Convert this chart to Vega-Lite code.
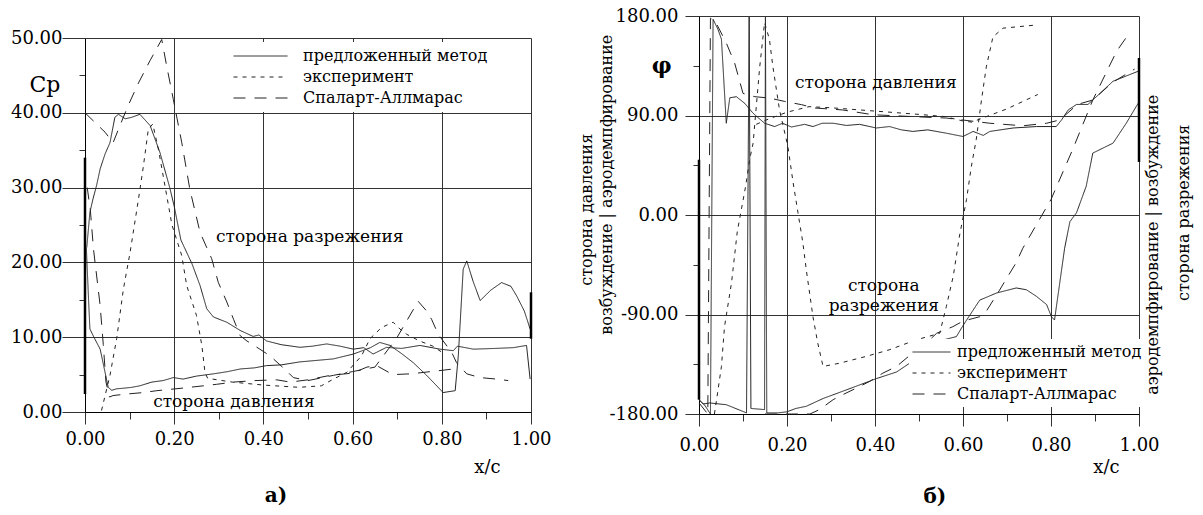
{
"$schema":"https://vega.github.io/schema/vega-lite/v6.json",
"background":"white",
"padding":{"left":10,"top":7,"right":5,"bottom":0},
"bounds":"flush",
"spacing":614,
"config":{
 "view":{"stroke":null},
 "font":"DejaVu Serif",
 "axis":{"labelFont":"DejaVu Serif","labelFontSize":18,"labelColor":"black","domainColor":"black","domainWidth":1,"tickColor":"#333","gridColor":"#333","gridWidth":1,"labelFlush":false,"labelOverlap":false,"titleFont":"DejaVu Serif","titleFontWeight":"normal","titleFontSize":18,"titleColor":"black"},
 "legend":{"symbolType":"stroke","symbolStrokeColor":"#222","symbolStrokeWidth":1,"labelFont":"DejaVu Serif","labelFontSize":16,"labelColor":"black","labelLimit":400,"fillColor":"white","clipHeight":20},
 "text":{"font":"DejaVu Serif","color":"black"}
},
"datasets":{
 "A":[
  {"m":"предложенный метод","c":"P","x":0.003,"y":22},{"m":"предложенный метод","c":"P","x":0.008,"y":15},{"m":"предложенный метод","c":"P","x":0.011,"y":11.1},{"m":"предложенный метод","c":"P","x":0.02,"y":10},{"m":"предложенный метод","c":"P","x":0.034,"y":8.4},{"m":"предложенный метод","c":"P","x":0.045,"y":5.3},{"m":"предложенный метод","c":"P","x":0.052,"y":3.3},{"m":"предложенный метод","c":"P","x":0.06,"y":2.9},{"m":"предложенный метод","c":"P","x":0.071,"y":3.1},{"m":"предложенный метод","c":"P","x":0.09,"y":3.2},{"m":"предложенный метод","c":"P","x":0.105,"y":3.3},{"m":"предложенный метод","c":"P","x":0.123,"y":3.5},{"m":"предложенный метод","c":"P","x":0.15,"y":4.0},{"m":"предложенный метод","c":"P","x":0.175,"y":4.2},{"m":"предложенный метод","c":"P","x":0.198,"y":4.6},{"m":"предложенный метод","c":"P","x":0.22,"y":4.4},{"m":"предложенный метод","c":"P","x":0.25,"y":4.8},{"m":"предложенный метод","c":"P","x":0.288,"y":5.1},{"m":"предложенный метод","c":"P","x":0.32,"y":5.4},{"m":"предложенный метод","c":"P","x":0.348,"y":5.75},{"m":"предложенный метод","c":"P","x":0.38,"y":5.9},{"m":"предложенный метод","c":"P","x":0.407,"y":6.2},{"m":"предложенный метод","c":"P","x":0.44,"y":6.3},{"m":"предложенный метод","c":"P","x":0.482,"y":6.7},{"m":"предложенный метод","c":"P","x":0.52,"y":6.9},{"m":"предложенный метод","c":"P","x":0.557,"y":7.1},{"m":"предложенный метод","c":"P","x":0.602,"y":7.75},{"m":"предложенный метод","c":"P","x":0.64,"y":8.6},{"m":"предложенный метод","c":"P","x":0.661,"y":9.3},{"m":"предложенный метод","c":"P","x":0.684,"y":8.9},{"m":"предложенный метод","c":"P","x":0.71,"y":7.8},{"m":"предложенный метод","c":"P","x":0.736,"y":6.6},{"m":"предложенный метод","c":"P","x":0.766,"y":4.9},{"m":"предложенный метод","c":"P","x":0.803,"y":2.6},{"m":"предложенный метод","c":"P","x":0.83,"y":2.85},{"m":"предложенный метод","c":"P","x":0.837,"y":7.5},{"m":"предложенный метод","c":"P","x":0.848,"y":19.1},{"m":"предложенный метод","c":"P","x":0.856,"y":20.2},{"m":"предложенный метод","c":"P","x":0.87,"y":17.5},{"m":"предложенный метод","c":"P","x":0.886,"y":14.9},{"m":"предложенный метод","c":"P","x":0.91,"y":16.3},{"m":"предложенный метод","c":"P","x":0.934,"y":17.3},{"m":"предложенный метод","c":"P","x":0.955,"y":16.8},{"m":"предложенный метод","c":"P","x":0.968,"y":15.5},{"m":"предложенный метод","c":"P","x":0.985,"y":13.5},{"m":"предложенный метод","c":"P","x":0.998,"y":11.1},
  {"m":"предложенный метод","c":"S","x":0.004,"y":22},{"m":"предложенный метод","c":"S","x":0.011,"y":26.7},{"m":"предложенный метод","c":"S","x":0.018,"y":28.5},{"m":"предложенный метод","c":"S","x":0.026,"y":30.3},{"m":"предложенный метод","c":"S","x":0.034,"y":32.5},{"m":"предложенный метод","c":"S","x":0.045,"y":34.5},{"m":"предложенный метод","c":"S","x":0.056,"y":36},{"m":"предложенный метод","c":"S","x":0.067,"y":39.4},{"m":"предложенный метод","c":"S","x":0.075,"y":39.8},{"m":"предложенный метод","c":"S","x":0.09,"y":39.2},{"m":"предложенный метод","c":"S","x":0.105,"y":39.4},{"m":"предложенный метод","c":"S","x":0.123,"y":39.8},{"m":"предложенный метод","c":"S","x":0.146,"y":38.3},{"m":"предложенный метод","c":"S","x":0.168,"y":34.7},{"m":"предложенный метод","c":"S","x":0.19,"y":30},{"m":"предложенный метод","c":"S","x":0.2,"y":27.5},{"m":"предложенный метод","c":"S","x":0.215,"y":23},{"m":"предложенный метод","c":"S","x":0.24,"y":19.8},{"m":"предложенный метод","c":"S","x":0.258,"y":16.9},{"m":"предложенный метод","c":"S","x":0.273,"y":13.8},{"m":"предложенный метод","c":"S","x":0.288,"y":12.7},{"m":"предложенный метод","c":"S","x":0.318,"y":12.0},{"m":"предложенный метод","c":"S","x":0.348,"y":10.9},{"m":"предложенный метод","c":"S","x":0.377,"y":10.1},{"m":"предложенный метод","c":"S","x":0.39,"y":10.3},{"m":"предложенный метод","c":"S","x":0.407,"y":9.5},{"m":"предложенный метод","c":"S","x":0.44,"y":9.0},{"m":"предложенный метод","c":"S","x":0.482,"y":8.65},{"m":"предложенный метод","c":"S","x":0.51,"y":8.8},{"m":"предложенный метод","c":"S","x":0.542,"y":9.1},{"m":"предложенный метод","c":"S","x":0.572,"y":8.8},{"m":"предложенный метод","c":"S","x":0.602,"y":8.4},{"m":"предложенный метод","c":"S","x":0.625,"y":8.6},{"m":"предложенный метод","c":"S","x":0.646,"y":7.75},{"m":"предложенный метод","c":"S","x":0.676,"y":8.64},{"m":"предложенный метод","c":"S","x":0.71,"y":8.5},{"m":"предложенный метод","c":"S","x":0.751,"y":8.9},{"m":"предложенный метод","c":"S","x":0.796,"y":8.4},{"m":"предложенный метод","c":"S","x":0.826,"y":8.2},{"m":"предложенный метод","c":"S","x":0.835,"y":8.8},{"m":"предложенный метод","c":"S","x":0.871,"y":8.4},{"m":"предложенный метод","c":"S","x":0.92,"y":8.5},{"m":"предложенный метод","c":"S","x":0.96,"y":8.6},{"m":"предложенный метод","c":"S","x":0.99,"y":8.9},{"m":"предложенный метод","c":"S","x":0.998,"y":4.4},
  {"m":"эксперимент","c":"E","x":0.037,"y":0.2},{"m":"эксперимент","c":"E","x":0.056,"y":4.9},{"m":"эксперимент","c":"E","x":0.071,"y":9.8},{"m":"эксперимент","c":"E","x":0.086,"y":16.4},{"m":"эксперимент","c":"E","x":0.101,"y":21.3},{"m":"эксперимент","c":"E","x":0.12,"y":28.5},{"m":"эксперимент","c":"E","x":0.131,"y":32.9},{"m":"эксперимент","c":"E","x":0.142,"y":37.8},{"m":"эксперимент","c":"E","x":0.152,"y":38.5},{"m":"эксперимент","c":"E","x":0.165,"y":35},{"m":"эксперимент","c":"E","x":0.18,"y":30},{"m":"эксперимент","c":"E","x":0.195,"y":25},{"m":"эксперимент","c":"E","x":0.217,"y":20.9},{"m":"эксперимент","c":"E","x":0.228,"y":16.9},{"m":"эксперимент","c":"E","x":0.25,"y":12.9},{"m":"эксперимент","c":"E","x":0.262,"y":8.9},{"m":"эксперимент","c":"E","x":0.269,"y":5.3},{"m":"эксперимент","c":"E","x":0.275,"y":4.5},{"m":"эксперимент","c":"E","x":0.33,"y":4.0},{"m":"эксперимент","c":"E","x":0.4,"y":3.6},{"m":"эксперимент","c":"E","x":0.48,"y":3.3},{"m":"эксперимент","c":"E","x":0.53,"y":3.5},{"m":"эксперимент","c":"E","x":0.557,"y":4.4},{"m":"эксперимент","c":"E","x":0.587,"y":5.3},{"m":"эксперимент","c":"E","x":0.62,"y":7.5},{"m":"эксперимент","c":"E","x":0.639,"y":9.8},{"m":"эксперимент","c":"E","x":0.665,"y":11.3},{"m":"эксперимент","c":"E","x":0.691,"y":12},{"m":"эксперимент","c":"E","x":0.706,"y":11.1},{"m":"эксперимент","c":"E","x":0.721,"y":10.4},{"m":"эксперимент","c":"E","x":0.75,"y":9.5},{"m":"эксперимент","c":"E","x":0.78,"y":8.8},{"m":"эксперимент","c":"E","x":0.8,"y":8.0},
  {"m":"Спаларт-Аллмарас","c":"AS","x":0,"y":40},{"m":"Спаларт-Аллмарас","c":"AS","x":0.026,"y":38.5},{"m":"Спаларт-Аллмарас","c":"AS","x":0.045,"y":37.4},{"m":"Спаларт-Аллмарас","c":"AS","x":0.063,"y":36},{"m":"Спаларт-Аллмарас","c":"AS","x":0.075,"y":37.8},{"m":"Спаларт-Аллмарас","c":"AS","x":0.097,"y":41},{"m":"Спаларт-Аллмарас","c":"AS","x":0.12,"y":44},{"m":"Спаларт-Аллмарас","c":"AS","x":0.146,"y":47},{"m":"Спаларт-Аллмарас","c":"AS","x":0.172,"y":49.8},{"m":"Спаларт-Аллмарас","c":"AS","x":0.183,"y":46.3},{"m":"Спаларт-Аллмарас","c":"AS","x":0.198,"y":41.8},{"m":"Спаларт-Аллмарас","c":"AS","x":0.217,"y":36},{"m":"Спаларт-Аллмарас","c":"AS","x":0.235,"y":29.8},{"m":"Спаларт-Аллмарас","c":"AS","x":0.258,"y":24},{"m":"Спаларт-Аллмарас","c":"AS","x":0.284,"y":20.5},{"m":"Спаларт-Аллмарас","c":"AS","x":0.299,"y":17.3},{"m":"Спаларт-Аллмарас","c":"AS","x":0.318,"y":14.7},{"m":"Спаларт-Аллмарас","c":"AS","x":0.333,"y":12.4},{"m":"Спаларт-Аллмарас","c":"AS","x":0.348,"y":10.2},{"m":"Спаларт-Аллмарас","c":"AS","x":0.363,"y":9.5},{"m":"Спаларт-Аллмарас","c":"AS","x":0.392,"y":8.4},{"m":"Спаларт-Аллмарас","c":"AS","x":0.415,"y":7.5},{"m":"Спаларт-Аллмарас","c":"AS","x":0.452,"y":5.5},{"m":"Спаларт-Аллмарас","c":"AS","x":0.467,"y":4.6},{"m":"Спаларт-Аллмарас","c":"AS","x":0.5,"y":4.2},{"m":"Спаларт-Аллмарас","c":"AS","x":0.557,"y":4.9},{"m":"Спаларт-Аллмарас","c":"AS","x":0.6,"y":5.4},{"m":"Спаларт-Аллмарас","c":"AS","x":0.65,"y":6.0},{"m":"Спаларт-Аллмарас","c":"AS","x":0.7,"y":10},{"m":"Спаларт-Аллмарас","c":"AS","x":0.747,"y":14.8},{"m":"Спаларт-Аллмарас","c":"AS","x":0.766,"y":13.5},{"m":"Спаларт-Аллмарас","c":"AS","x":0.777,"y":12.4},{"m":"Спаларт-Аллмарас","c":"AS","x":0.792,"y":10.4},{"m":"Спаларт-Аллмарас","c":"AS","x":0.803,"y":9.5},{"m":"Спаларт-Аллмарас","c":"AS","x":0.822,"y":8.0},{"m":"Спаларт-Аллмарас","c":"AS","x":0.833,"y":6.6},{"m":"Спаларт-Аллмарас","c":"AS","x":0.856,"y":5.1},{"m":"Спаларт-Аллмарас","c":"AS","x":0.886,"y":4.6},{"m":"Спаларт-Аллмарас","c":"AS","x":0.923,"y":4.4},{"m":"Спаларт-Аллмарас","c":"AS","x":0.949,"y":4.2},
  {"m":"Спаларт-Аллмарас","c":"AP","x":0.005,"y":30},{"m":"Спаларт-Аллмарас","c":"AP","x":0.012,"y":27},{"m":"Спаларт-Аллмарас","c":"AP","x":0.019,"y":21.8},{"m":"Спаларт-Аллмарас","c":"AP","x":0.034,"y":14.2},{"m":"Спаларт-Аллмарас","c":"AP","x":0.041,"y":9},{"m":"Спаларт-Аллмарас","c":"AP","x":0.047,"y":4},{"m":"Спаларт-Аллмарас","c":"AP","x":0.055,"y":2.0},{"m":"Спаларт-Аллмарас","c":"AP","x":0.063,"y":2.2},{"m":"Спаларт-Аллмарас","c":"AP","x":0.093,"y":2.4},{"m":"Спаларт-Аллмарас","c":"AP","x":0.131,"y":2.6},{"m":"Спаларт-Аллмарас","c":"AP","x":0.161,"y":2.85},{"m":"Спаларт-Аллмарас","c":"AP","x":0.22,"y":3.2},{"m":"Спаларт-Аллмарас","c":"AP","x":0.265,"y":3.5},{"m":"Спаларт-Аллмарас","c":"AP","x":0.295,"y":3.7},{"m":"Спаларт-Аллмарас","c":"AP","x":0.333,"y":4.0},{"m":"Спаларт-Аллмарас","c":"AP","x":0.38,"y":4.2},{"m":"Спаларт-Аллмарас","c":"AP","x":0.43,"y":4.3},{"m":"Спаларт-Аллмарас","c":"AP","x":0.46,"y":4.0},{"m":"Спаларт-Аллмарас","c":"AP","x":0.5,"y":4.3},{"m":"Спаларт-Аллмарас","c":"AP","x":0.55,"y":4.9},{"m":"Спаларт-Аллмарас","c":"AP","x":0.6,"y":5.2},{"m":"Спаларт-Аллмарас","c":"AP","x":0.632,"y":6.0},{"m":"Спаларт-Аллмарас","c":"AP","x":0.654,"y":6.2},{"m":"Спаларт-Аллмарас","c":"AP","x":0.69,"y":5.0},{"m":"Спаларт-Аллмарас","c":"AP","x":0.73,"y":5.1},{"m":"Спаларт-Аллмарас","c":"AP","x":0.79,"y":5.5},{"m":"Спаларт-Аллмарас","c":"AP","x":0.826,"y":5.75}
 ],
 "B":[
  {"m":"предложенный метод","c":"P","x":0.0,"y":-167},{"m":"предложенный метод","c":"P","x":0.013,"y":-172},{"m":"предложенный метод","c":"P","x":0.026,"y":-180},{"m":"предложенный метод","c":"P","x":0.032,"y":177},{"m":"предложенный метод","c":"P","x":0.043,"y":168},{"m":"предложенный метод","c":"P","x":0.051,"y":159},{"m":"предложенный метод","c":"P","x":0.062,"y":83},{"m":"предложенный метод","c":"P","x":0.07,"y":106},{"m":"предложенный метод","c":"P","x":0.085,"y":107},{"m":"предложенный метод","c":"P","x":0.104,"y":101},{"m":"предложенный метод","c":"P","x":0.123,"y":92},{"m":"предложенный метод","c":"P","x":0.149,"y":83},{"m":"предложенный метод","c":"P","x":0.172,"y":80},{"m":"предложенный метод","c":"P","x":0.19,"y":83},{"m":"предложенный метод","c":"P","x":0.21,"y":79.6},{"m":"предложенный метод","c":"P","x":0.24,"y":82},{"m":"предложенный метод","c":"P","x":0.259,"y":80},{"m":"предложенный метод","c":"P","x":0.28,"y":83},{"m":"предложенный метод","c":"P","x":0.305,"y":83},{"m":"предложенный метод","c":"P","x":0.335,"y":81},{"m":"предложенный метод","c":"P","x":0.365,"y":82},{"m":"предложенный метод","c":"P","x":0.403,"y":78.7},{"m":"предложенный метод","c":"P","x":0.433,"y":80},{"m":"предложенный метод","c":"P","x":0.46,"y":77},{"m":"предложенный метод","c":"P","x":0.486,"y":75.6},{"m":"предложенный метод","c":"P","x":0.52,"y":77},{"m":"предложенный метод","c":"P","x":0.562,"y":74},{"m":"предложенный метод","c":"P","x":0.6,"y":71},{"m":"предложенный метод","c":"P","x":0.623,"y":75.6},{"m":"предложенный метод","c":"P","x":0.646,"y":72},{"m":"предложенный метод","c":"P","x":0.661,"y":75.6},{"m":"предложенный метод","c":"P","x":0.714,"y":78.7},{"m":"предложенный метод","c":"P","x":0.767,"y":80},{"m":"предложенный метод","c":"P","x":0.812,"y":80},{"m":"предложенный метод","c":"P","x":0.824,"y":86},{"m":"предложенный метод","c":"P","x":0.839,"y":95},{"m":"предложенный метод","c":"P","x":0.858,"y":100},{"m":"предложенный метод","c":"P","x":0.884,"y":100},{"m":"предложенный метод","c":"P","x":0.895,"y":104},{"m":"предложенный метод","c":"P","x":0.941,"y":121},{"m":"предложенный метод","c":"P","x":0.998,"y":130},
  {"m":"предложенный метод","c":"S","x":0.0,"y":-167},{"m":"предложенный метод","c":"S","x":0.009,"y":-171},{"m":"предложенный метод","c":"S","x":0.024,"y":-170},{"m":"предложенный метод","c":"S","x":0.062,"y":-171.6},{"m":"предложенный метод","c":"S","x":0.108,"y":-179},{"m":"предложенный метод","c":"S","x":0.114,"y":179},{"m":"предложенный метод","c":"S","x":0.118,"y":-175},{"m":"предложенный метод","c":"S","x":0.149,"y":-176},{"m":"предложенный метод","c":"S","x":0.151,"y":179},{"m":"предложенный метод","c":"S","x":0.154,"y":-179},{"m":"предложенный метод","c":"S","x":0.18,"y":-179},{"m":"предложенный метод","c":"S","x":0.2,"y":-178},{"m":"предложенный метод","c":"S","x":0.22,"y":-175},{"m":"предложенный метод","c":"S","x":0.244,"y":-173},{"m":"предложенный метод","c":"S","x":0.282,"y":-166},{"m":"предложенный метод","c":"S","x":0.343,"y":-157},{"m":"предложенный метод","c":"S","x":0.403,"y":-148},{"m":"предложенный метод","c":"S","x":0.449,"y":-142},{"m":"предложенный метод","c":"S","x":0.479,"y":-134},{"m":"предложенный метод","c":"S","x":0.509,"y":-120},{"m":"предложенный метод","c":"S","x":0.54,"y":-117},{"m":"предложенный метод","c":"S","x":0.555,"y":-113},{"m":"предложенный метод","c":"S","x":0.585,"y":-110},{"m":"предложенный метод","c":"S","x":0.6,"y":-100},{"m":"предложенный метод","c":"S","x":0.638,"y":-77},{"m":"предложенный метод","c":"S","x":0.676,"y":-70.6},{"m":"предложенный метод","c":"S","x":0.721,"y":-66},{"m":"предложенный метод","c":"S","x":0.744,"y":-67.6},{"m":"предложенный метод","c":"S","x":0.767,"y":-73.6},{"m":"предложенный метод","c":"S","x":0.79,"y":-81},{"m":"предложенный метод","c":"S","x":0.801,"y":-92},{"m":"предложенный метод","c":"S","x":0.808,"y":-95},{"m":"предложенный метод","c":"S","x":0.831,"y":-30},{"m":"предложенный метод","c":"S","x":0.843,"y":-6},{"m":"предложенный метод","c":"S","x":0.858,"y":2},{"m":"предложенный метод","c":"S","x":0.88,"y":26},{"m":"предложенный метод","c":"S","x":0.895,"y":56},{"m":"предложенный метод","c":"S","x":0.941,"y":65},{"m":"предложенный метод","c":"S","x":0.971,"y":83},{"m":"предложенный метод","c":"S","x":0.998,"y":101},
  {"m":"эксперимент","c":"ES","x":0.035,"y":-180},{"m":"эксперимент","c":"ES","x":0.04,"y":-167},{"m":"эксперимент","c":"ES","x":0.051,"y":-137},{"m":"эксперимент","c":"ES","x":0.058,"y":-101},{"m":"эксперимент","c":"ES","x":0.074,"y":-61},{"m":"эксперимент","c":"ES","x":0.087,"y":-15},{"m":"эксперимент","c":"ES","x":0.106,"y":26},{"m":"эксперимент","c":"ES","x":0.115,"y":50},{"m":"эксперимент","c":"ES","x":0.123,"y":65},{"m":"эксперимент","c":"ES","x":0.138,"y":134},{"m":"эксперимент","c":"ES","x":0.149,"y":174},{"m":"эксперимент","c":"ES","x":0.16,"y":159},{"m":"эксперимент","c":"ES","x":0.168,"y":134},{"m":"эксперимент","c":"ES","x":0.183,"y":95},{"m":"эксперимент","c":"ES","x":0.202,"y":62},{"m":"эксперимент","c":"ES","x":0.214,"y":29},{"m":"эксперимент","c":"ES","x":0.225,"y":2},{"m":"эксперимент","c":"ES","x":0.236,"y":-25},{"m":"эксперимент","c":"ES","x":0.244,"y":-50},{"m":"эксперимент","c":"ES","x":0.259,"y":-92},{"m":"эксперимент","c":"ES","x":0.27,"y":-116},{"m":"эксперимент","c":"ES","x":0.282,"y":-137},{"m":"эксперимент","c":"ES","x":0.32,"y":-134},{"m":"эксперимент","c":"ES","x":0.379,"y":-128},{"m":"эксперимент","c":"ES","x":0.432,"y":-122},{"m":"эксперимент","c":"ES","x":0.493,"y":-113},{"m":"эксперимент","c":"ES","x":0.547,"y":-107},{"m":"эксперимент","c":"ES","x":0.562,"y":-83},{"m":"эксперимент","c":"ES","x":0.578,"y":-55},{"m":"эксперимент","c":"ES","x":0.592,"y":-19},{"m":"эксперимент","c":"ES","x":0.608,"y":14},{"m":"эксперимент","c":"ES","x":0.619,"y":44},{"m":"эксперимент","c":"ES","x":0.63,"y":68},{"m":"эксперимент","c":"ES","x":0.642,"y":104},{"m":"эксперимент","c":"ES","x":0.653,"y":134},{"m":"эксперимент","c":"ES","x":0.668,"y":161},{"m":"эксперимент","c":"ES","x":0.691,"y":169},{"m":"эксперимент","c":"ES","x":0.77,"y":172},
  {"m":"эксперимент","c":"EP","x":0.13,"y":82},{"m":"эксперимент","c":"EP","x":0.153,"y":86},{"m":"эксперимент","c":"EP","x":0.2,"y":93},{"m":"эксперимент","c":"EP","x":0.25,"y":98},{"m":"эксперимент","c":"EP","x":0.3,"y":97},{"m":"эксперимент","c":"EP","x":0.4,"y":94},{"m":"эксперимент","c":"EP","x":0.5,"y":91},{"m":"эксперимент","c":"EP","x":0.56,"y":89},{"m":"эксперимент","c":"EP","x":0.6,"y":85},{"m":"эксперимент","c":"EP","x":0.62,"y":84},{"m":"эксперимент","c":"EP","x":0.7,"y":96},{"m":"эксперимент","c":"EP","x":0.77,"y":109},
  {"m":"Спаларт-Аллмарас","c":"AP","x":0.0,"y":-170},{"m":"Спаларт-Аллмарас","c":"AP","x":0.02,"y":-180},{"m":"Спаларт-Аллмарас","c":"AP","x":0.026,"y":178},{"m":"Спаларт-Аллмарас","c":"AP","x":0.036,"y":176},{"m":"Спаларт-Аллмарас","c":"AP","x":0.062,"y":155.6},{"m":"Спаларт-Аллмарас","c":"AP","x":0.081,"y":137.5},{"m":"Спаларт-Аллмарас","c":"AP","x":0.1,"y":110},{"m":"Спаларт-Аллмарас","c":"AP","x":0.127,"y":107},{"m":"Спаларт-Аллмарас","c":"AP","x":0.16,"y":105.8},{"m":"Спаларт-Аллмарас","c":"AP","x":0.195,"y":102.7},{"m":"Спаларт-Аллмарас","c":"AP","x":0.233,"y":99.8},{"m":"Спаларт-Аллмарас","c":"AP","x":0.263,"y":96.8},{"m":"Спаларт-Аллмарас","c":"AP","x":0.327,"y":95},{"m":"Спаларт-Аллмарас","c":"AP","x":0.395,"y":90.7},{"m":"Спаларт-Аллмарас","c":"AP","x":0.486,"y":89},{"m":"Спаларт-Аллмарас","c":"AP","x":0.562,"y":87.7},{"m":"Спаларт-Аллмарас","c":"AP","x":0.661,"y":83},{"m":"Спаларт-Аллмарас","c":"AP","x":0.736,"y":80.7},{"m":"Спаларт-Аллмарас","c":"AP","x":0.79,"y":83},{"m":"Спаларт-Аллмарас","c":"AP","x":0.82,"y":86},{"m":"Спаларт-Аллмарас","c":"AP","x":0.86,"y":100},{"m":"Спаларт-Аллмарас","c":"AP","x":0.895,"y":104},{"m":"Спаларт-Аллмарас","c":"AP","x":0.94,"y":120},{"m":"Спаларт-Аллмарас","c":"AP","x":0.99,"y":132},
  {"m":"Спаларт-Аллмарас","c":"AS","x":0.15,"y":-180},{"m":"Спаларт-Аллмарас","c":"AS","x":0.21,"y":-180},{"m":"Спаларт-Аллмарас","c":"AS","x":0.252,"y":-180},{"m":"Спаларт-Аллмарас","c":"AS","x":0.274,"y":-176},{"m":"Спаларт-Аллмарас","c":"AS","x":0.305,"y":-167},{"m":"Спаларт-Аллмарас","c":"AS","x":0.327,"y":-162.5},{"m":"Спаларт-Аллмарас","c":"AS","x":0.358,"y":-156.5},{"m":"Спаларт-Аллмарас","c":"AS","x":0.388,"y":-150.5},{"m":"Спаларт-Аллмарас","c":"AS","x":0.418,"y":-143},{"m":"Спаларт-Аллмарас","c":"AS","x":0.449,"y":-137},{"m":"Спаларт-Аллмарас","c":"AS","x":0.494,"y":-122},{"m":"Спаларт-Аллмарас","c":"AS","x":0.524,"y":-113},{"m":"Спаларт-Аллмарас","c":"AS","x":0.54,"y":-107},{"m":"Спаларт-Аллмарас","c":"AS","x":0.577,"y":-101},{"m":"Спаларт-Аллмарас","c":"AS","x":0.6,"y":-96},{"m":"Спаларт-Аллмарас","c":"AS","x":0.638,"y":-92},{"m":"Спаларт-Аллмарас","c":"AS","x":0.653,"y":-87},{"m":"Спаларт-Аллмарас","c":"AS","x":0.683,"y":-68},{"m":"Спаларт-Аллмарас","c":"AS","x":0.721,"y":-43},{"m":"Спаларт-Аллмарас","c":"AS","x":0.736,"y":-30},{"m":"Спаларт-Аллмарас","c":"AS","x":0.8,"y":14},{"m":"Спаларт-Аллмарас","c":"AS","x":0.85,"y":60},{"m":"Спаларт-Аллмарас","c":"AS","x":0.895,"y":104},{"m":"Спаларт-Аллмарас","c":"AS","x":0.949,"y":148},{"m":"Спаларт-Аллмарас","c":"AS","x":0.97,"y":160}
 ],
 "Ae":[{"x":0,"y":2.4,"y2":34},{"x":1,"y":9.8,"y2":16}],
 "Be":[{"x":0,"y":-167,"y2":50},{"x":1,"y":48,"y2":142}]
},
"resolve":{"scale":{"strokeDash":"independent"},"legend":{"strokeDash":"independent"}},
"hconcat":[
 {"vconcat":[
   {"width":446,"height":2,"data":{"values":[]},"mark":"point"},
   {"width":446,"height":374,
    "encoding":{
     "x":{"field":"x","type":"quantitative","scale":{"domain":[0,1],"nice":false},
      "axis":{"values":[0,0.1,0.2,0.3,0.4,0.5,0.6,0.7,0.8,0.9,1],"grid":true,
       "gridOpacity":{"condition":{"test":"round(datum.value*10)%2===0","value":1},"value":0},
       "tickSize":{"condition":{"test":"round(datum.value*10)%2===0","value":12},"value":7},
       "labelExpr":"round(datum.value*10)%2===0 ? format(datum.value,'.2f') : ''",
       "labelPadding":6,"title":"x/c","titleX":402,"titleY":55,"titleAlign":"center","titleBaseline":"middle"}},
     "y":{"field":"y","type":"quantitative","scale":{"domain":[0,50],"nice":false},
      "axis":{"values":[0,5,10,15,20,25,30,35,40,45,50],"grid":true,
       "gridOpacity":{"condition":{"test":"datum.value%10===0","value":1},"value":0},
       "tickSize":{"condition":{"test":"datum.value%10===0","value":23},"value":6},
       "labelExpr":"datum.value%10===0 ? format(datum.value,'.2f') : ''",
       "labelPadding":0,"title":null}}
    },
    "layer":[
     {"data":{"name":"A"},"mark":{"type":"line","color":"#222","strokeWidth":1},
      "encoding":{
       "strokeDash":{"field":"m","type":"nominal","scale":{"domain":["предложенный метод","эксперимент","Спаларт-Аллмарас"],"range":[[1,0],[4,5],[12,9]]},
        "legend":{"orient":"none","legendX":144,"legendY":26,"title":null,"symbolSize":2916,"labelOffset":15,"padding":4,"rowPadding":1}},
       "detail":{"field":"c"}}},
     {"data":{"name":"Ae"},"mark":{"type":"rule","color":"black","strokeWidth":2.5},"encoding":{"y2":{"field":"y2"}}},
     {"data":{"values":[{"x":0.504,"y":23.4,"t":"сторона разрежения"},{"x":0.334,"y":1.34,"t":"сторона давления"}]},"mark":{"type":"text","fontSize":17},"encoding":{"text":{"field":"t"}}},
     {"data":{"values":[{"x":-0.09,"y":43.7,"t":"Cp"}]},"mark":{"type":"text","fontSize":22},"encoding":{"text":{"field":"t"}}},
     {"data":{"values":[{"x":0.428,"y":-11.2,"t":"а)"}]},"mark":{"type":"text","fontSize":20,"fontWeight":"bold"},"encoding":{"text":{"field":"t"}}}
    ]}
  ],"spacing":20,"bounds":"flush"},
 {"width":440,"height":398,
  "encoding":{
   "x":{"field":"x","type":"quantitative","scale":{"domain":[0,1],"nice":false},
    "axis":{"values":[0,0.1,0.2,0.3,0.4,0.5,0.6,0.7,0.8,0.9,1],"grid":true,
     "gridOpacity":{"condition":{"test":"round(datum.value*10)%2===0","value":1},"value":0},
     "tickSize":{"condition":{"test":"round(datum.value*10)%2===0","value":12},"value":7},
     "labelExpr":"round(datum.value*10)%2===0 ? format(datum.value,'.2f') : ''",
     "labelPadding":10,"title":"x/c","titleX":407,"titleY":53,"titleAlign":"center","titleBaseline":"middle"}},
   "y":{"field":"y","type":"quantitative","scale":{"domain":[-180,180],"nice":false},
    "axis":{"values":[-180,-135,-90,-45,0,45,90,135,180],"grid":true,
     "gridOpacity":{"condition":{"test":"datum.value%90===0","value":1},"value":0},
     "tickSize":{"condition":{"test":"datum.value%90===0","value":14},"value":6},
     "labelExpr":"datum.value%90===0 ? replace(format(datum.value,'.2f'),'\u2212','-') : ''",
     "labelPadding":7,"title":null}}
  },
  "layer":[
   {"data":{"name":"B"},"mark":{"type":"line","color":"#222","strokeWidth":1},
    "encoding":{
     "strokeDash":{"field":"m","type":"nominal","scale":{"domain":["предложенный метод","эксперимент","Спаларт-Аллмарас"],"range":[[1,0],[4,5],[12,9]]},
      "legend":{"orient":"none","legendX":210,"legendY":323,"title":null,"symbolSize":1444,"labelOffset":6,"padding":3,"rowPadding":1}},
     "detail":{"field":"c"}}},
   {"data":{"name":"Be"},"mark":{"type":"rule","color":"black","strokeWidth":2.5},"encoding":{"y2":{"field":"y2"}}},
   {"data":{"values":[{"x":0.402,"y":119.7,"t":"сторона давления"},{"x":0.42,"y":-64.6,"t":"сторона\nразрежения"}]},"mark":{"type":"text","fontSize":17,"lineBreak":"\n","lineHeight":20},"encoding":{"text":{"field":"t"}}},
   {"data":{"values":[{"x":-0.255,"y":4.8,"t":"сторона давления"},{"x":-0.21,"y":27.4,"t":"возбуждение | аэродемпфирование"},{"x":1.031,"y":-26.9,"t":"аэродемпфирование | возбуждение"},{"x":1.102,"y":2,"t":"сторона разрежения"}]},"mark":{"type":"text","fontSize":16,"angle":270},"encoding":{"text":{"field":"t"}}},
   {"data":{"values":[{"x":-0.085,"y":135,"t":"φ"}]},"mark":{"type":"text","fontSize":22,"fontWeight":"bold"},"encoding":{"text":{"field":"t"}}},
   {"data":{"values":[{"x":0.536,"y":-254.8,"t":"б)"}]},"mark":{"type":"text","fontSize":20,"fontWeight":"bold"},"encoding":{"text":{"field":"t"}}}
  ]}
]
}
